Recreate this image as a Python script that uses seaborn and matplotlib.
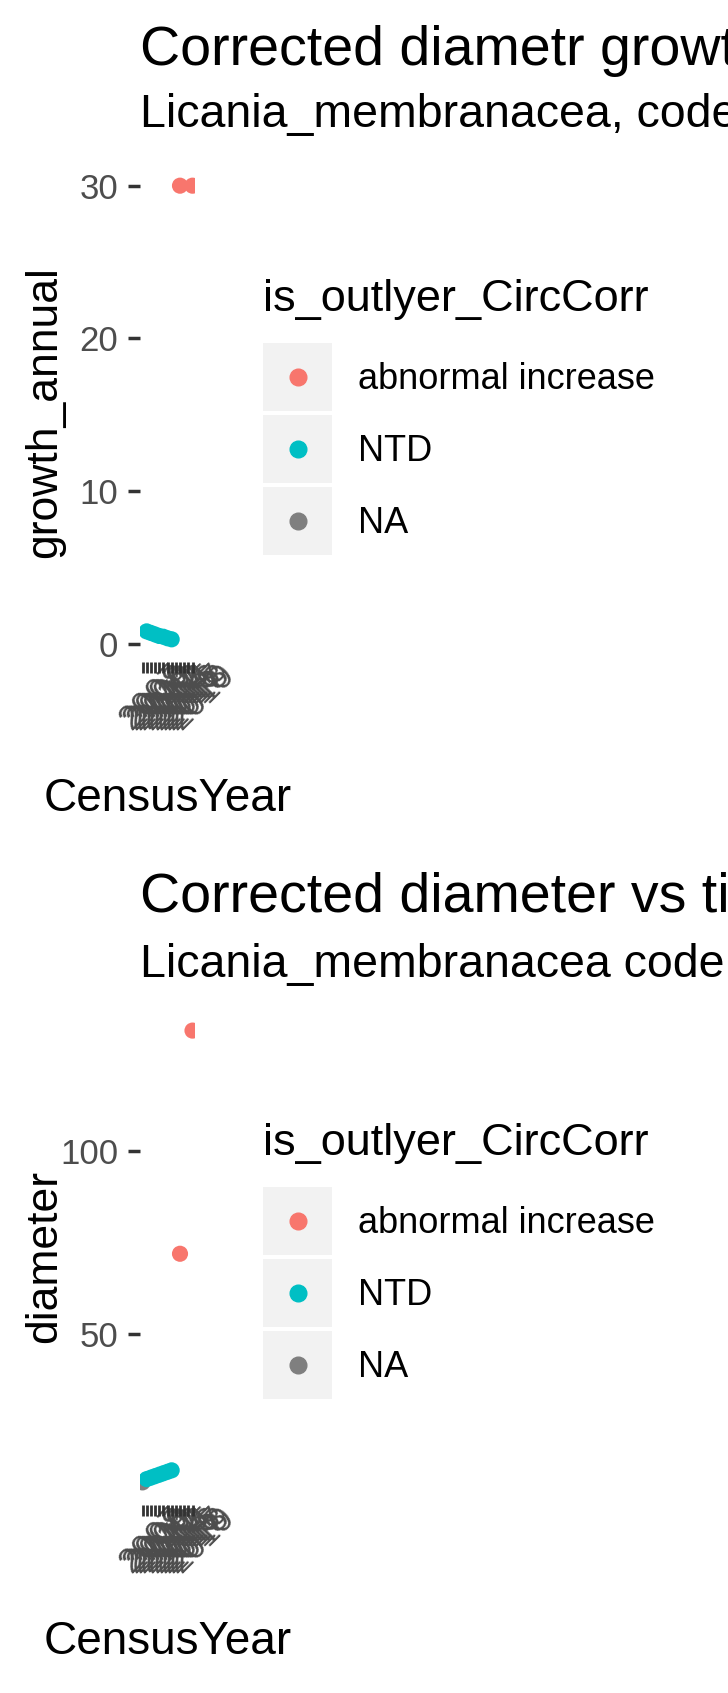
import numpy as np
import pandas as pd
import matplotlib
matplotlib.use('Agg')
import matplotlib.pyplot as plt
import matplotlib.transforms as mtransforms
import seaborn as sns
from matplotlib.patches import Rectangle
from matplotlib.lines import Line2D
from matplotlib.ticker import MultipleLocator

sns.set_style('white')
plt.rcParams['font.family'] = ['Liberation Sans', 'DejaVu Sans']
plt.rcParams['text.color'] = 'black'
plt.rcParams['axes.labelcolor'] = 'black'

# Data.
census_year = ['2007', '2008', '2009', '2010', '2011', '2012', '2013',
               '2014', '2015', '2016', '2017', '2018', '2019']
is_outlyer = ['NA', 'NTD', 'NTD', 'NTD', 'NTD', 'NTD', 'NTD', 'NTD', 'NA',
              'abnormal increase', 'NA', 'NA', 'abnormal increase']
growth_annual = [np.nan, 0.8, 0.7, 0.6, 0.5, 0.45, 0.35, 0.28, np.nan,
                 30.0, np.nan, np.nan, 30.0]
diameter = [9.5, 10.4, 10.8, 11.2, 11.6, 12.0, 12.4, 12.8, np.nan,
            72.0, np.nan, np.nan, 133.0]

legend_labels = ['abnormal increase', 'NTD', 'NA']
legend_colours = ['#F8766D', '#00BFC4', '#7F7F7F']

df = pd.DataFrame({'CensusYear': census_year,
                   'pos': np.arange(len(census_year)),
                   'is_outlyer_CircCorr': is_outlyer,
                   'growth_annual': growth_annual,
                   'diameter': diameter})
palette = dict(zip(legend_labels, legend_colours))

W, H = 728, 1693
fig = plt.figure(figsize=(W / 100, H / 100), dpi=100)

def fx(px):
    return px / W

def fy(py):
    return 1 - py / H

# One panel, ggplot-like.
def panel(top, bottom, yvar, step, title, subtitle, title_base, sub_base):
    ax = fig.add_axes([fx(140), fy(bottom), 55 / W, (bottom - top) / H])
    sns.scatterplot(data=df.dropna(subset=[yvar]), x='pos', y=yvar,
                    hue='is_outlyer_CircCorr', hue_order=legend_labels,
                    palette=palette, s=135, linewidth=0, alpha=1,
                    legend=False, ax=ax)
    ax.set_xlim(-0.6, len(census_year) - 0.4)
    ax.yaxis.set_major_locator(MultipleLocator(step))
    for s in ax.spines.values():
        s.set_visible(False)
    ax.tick_params(axis='y', left=True, length=8.5, width=2.5,
                   color='#333333', labelsize=25, labelcolor='#4D4D4D',
                   pad=7)
    ax.tick_params(axis='x', bottom=True, length=8, width=2,
                   color='#333333', labelsize=25, labelcolor='#4D4D4D',
                   pad=17)
    ax.set_xticks(df['pos'])
    ax.set_xticklabels(census_year, rotation=45, ha='center', va='center',
                       rotation_mode='anchor')
    # Nudge the overlapping year labels to the right, as in the original.
    shift = mtransforms.ScaledTranslation(0.09, 0, fig.dpi_scale_trans)
    for t in ax.xaxis.get_major_ticks():
        t.label1.set_transform(t.label1.get_transform() + shift)

    # Axis titles.
    ax.set_xlabel('CensusYear', fontsize=33)
    ax.xaxis.set_label_coords(0.5, -137 / (bottom - top))
    ax.xaxis.label.set_va('center')
    ax.set_ylabel(yvar, fontsize=32)
    ax.yaxis.set_label_coords((45 - 140) / 55, 0.5)
    ax.yaxis.label.set_va('center')

    # Title and subtitle.
    fig.text(fx(140), fy(title_base), title, fontsize=40, va='baseline')
    fig.text(fx(140), fy(sub_base), subtitle, fontsize=33.5, va='baseline')

    # Legend, centred on the panel.
    cy = (top + bottom) / 2
    fig.text(fx(263), fy(cy - 101), 'is_outlyer_CircCorr', fontsize=32.5,
             va='baseline')
    for i, (lab, col) in enumerate(zip(legend_labels, legend_colours)):
        kc = cy - 36 + 72 * i
        fig.patches.append(Rectangle((fx(263), fy(kc + 34)), 69 / W, 68 / H,
                                     transform=fig.transFigure,
                                     facecolor='#F2F2F2', edgecolor='none'))
        fig.add_artist(Line2D([fx(297.5)], [fy(kc)], marker='o',
                              markersize=12, color=col, linestyle='none',
                              transform=fig.transFigure))
        fig.text(fx(358), fy(kc + 3), lab, fontsize=26, va='center')
    return ax

panel(163, 662, 'growth_annual', 10,
      'Corrected diametr growth vs time',
      'Licania_membranacea, code 1, SubPlot 1',
      65, 127)
panel(1008, 1505, 'diameter', 50,
      'Corrected diameter vs time',
      'Licania_membranacea code 1, SubPlot 1',
      912, 977)

fig.savefig('out.png', dpi=100)
